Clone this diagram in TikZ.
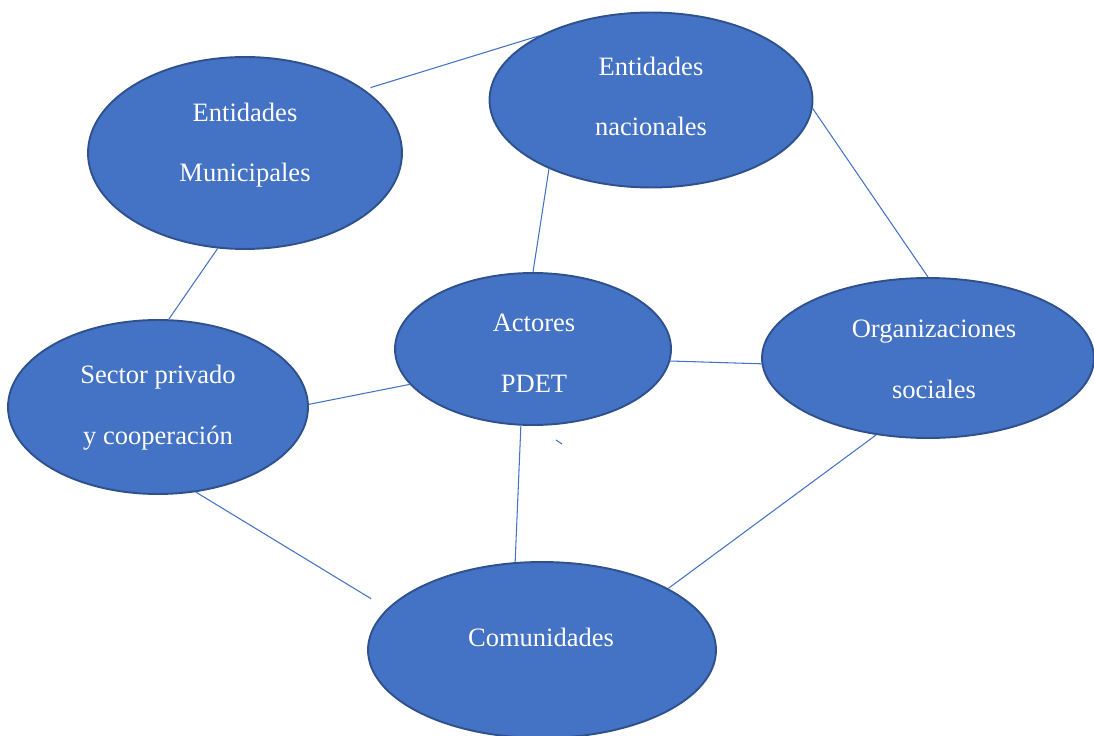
\documentclass[tikz,border=0pt]{standalone}
\usepackage{fontspec}
\setmainfont{Liberation Serif}
\usepackage{tikz}
\usetikzlibrary{shapes.geometric}
\definecolor{ovalfill}{HTML}{4472C4}
\definecolor{ovaldraw}{HTML}{2F528F}

\begin{document}
\begin{tikzpicture}[x=0.02cm, y=-0.02cm,
		oval/.style={ellipse, draw=ovaldraw, fill=ovalfill, line width=1.1pt, inner sep=0pt},
		txt/.style={text=white, align=center, anchor=base, font=\fontsize{15.1pt}{34.5pt}\selectfont},
		link/.style={draw=ovalfill, line width=0.6pt}]
		\useasboundingbox (0,0) rectangle (1094,736);
		\clip (0,0) rectangle (1094,736);
		\node[oval, minimum width=6.28cm, minimum height=3.84cm] (1) at (245,153) {};
		\node[oval, minimum width=6.46cm, minimum height=3.5cm] (2) at (651,100) {};
		\node[oval, minimum width=5.52cm, minimum height=3.04cm] (3) at (533,349) {};
		\node[oval, minimum width=6.64cm, minimum height=3.2cm] (4) at (928,358) {};
		\node[oval, minimum width=6.0cm, minimum height=3.48cm] (5) at (158,407) {};
		\node[oval, minimum width=6.96cm, minimum height=3.52cm] (6) at (542,650) {};
		\node[txt] (1t) at (245,182) {Entidades\\Municipales};
		\node[txt] (2t) at (651,136) {Entidades\\nacionales};
		\node[txt] (3t) at (534,392) {Actores\\PDET};
		\node[txt] (4t) at (934,398) {Organizaciones\\sociales};
		\node[txt] (5t) at (158,444) {Sector privado\\y cooperación};
		\node[txt] (6t) at (541,646) {Comunidades};
		
		\path (1.28) edge[link, shorten <=0.13cm] (2.150);
		\path (2.-3) edge[link] (4.north);
		\path (2.-146) edge[link] (3.north);
		\path (1.-106) edge[link] (5.83);
		\path (5.1) edge[link] (3.196);
		\path (3.-5) edge[link] (4.182);
		\path (3.-99) edge[link] (6.107);
		\path (5.-66) edge[link, shorten >=0.38cm] (6.165);
		\path (4.-124) edge[link] (6.26);
		\draw[link] (556,440) -- (562,444);
		
	\end{tikzpicture}
\end{document}
